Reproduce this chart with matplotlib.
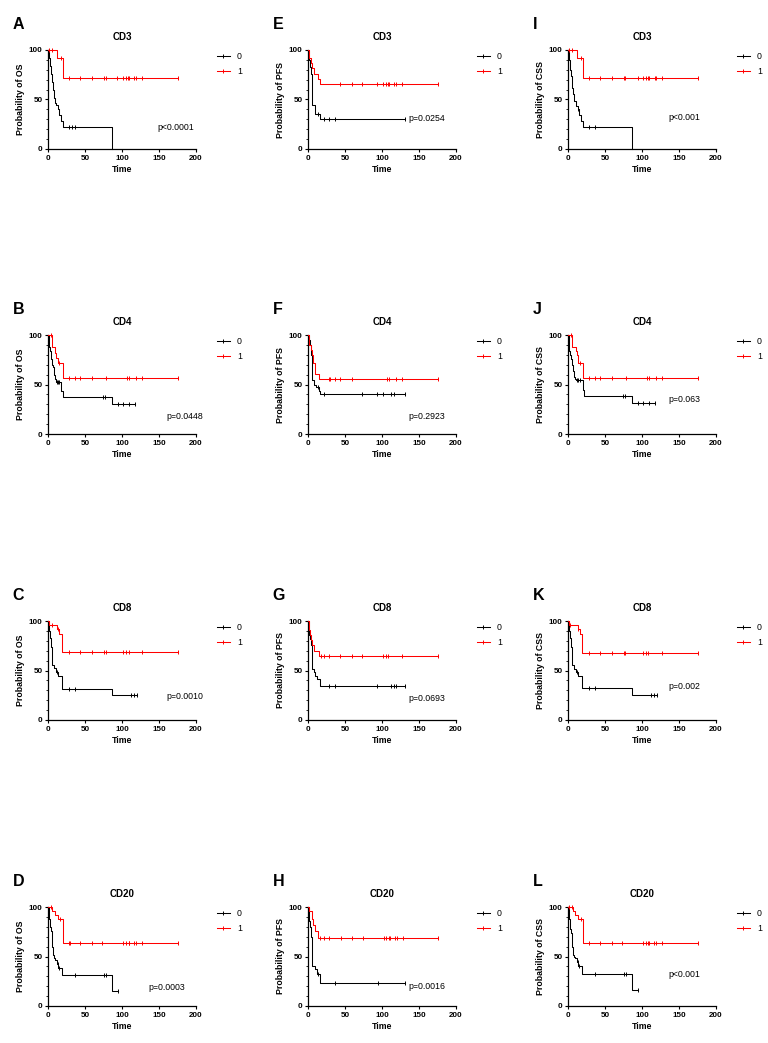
import numpy as np
import matplotlib
matplotlib.use("Agg")
import matplotlib.pyplot as plt
from matplotlib.lines import Line2D
from matplotlib.ticker import MultipleLocator

plt.rcParams['font.family'] = ['Liberation Sans', 'DejaVu Sans']

# ---- Kaplan-Meier data (time, survival %, censor times)
# column 1: OS
A_t0 = [0, 1, 2, 3, 4, 5, 6, 7, 8, 10, 11, 13, 15, 18, 20, 87]
A_s0 = [100, 96, 92, 84, 76, 72, 68, 60, 52, 46, 44, 40, 34, 28, 22, 0]
A_c0 = [29, 33, 37]
A_t1 = [0, 12, 20]
A_s1 = [100, 92, 72]
A_c1 = [2, 5, 17, 29, 43, 59, 75, 78, 93, 102, 105, 108, 110, 116, 119, 127, 175]

B_t0 = [0, 1, 2, 3, 4, 5, 7, 8, 9, 11, 18, 20, 87]
B_s0 = [100, 96, 88, 84, 76, 70, 68, 60, 56, 53, 43, 37, 30]
B_c0 = [12, 13, 15, 74, 77, 95, 102, 109, 117]
B_t1 = [0, 6, 10, 11, 13, 20]
B_s1 = [100, 88, 82, 77, 72, 57]
B_c1 = [4, 15, 28, 36, 43, 59, 78, 107, 109, 119, 127, 175]

C_t0 = [0, 1, 2, 3, 4, 5, 6, 8, 11, 14, 19, 87]
C_s0 = [100, 95, 90, 83, 74, 65, 56, 53, 48, 44, 31, 25]
C_c0 = [12, 29, 37, 112, 116, 120]
C_t1 = [0, 2, 12, 15, 19]
C_s1 = [100, 96, 92, 87, 69]
C_c1 = [5, 14, 29, 43, 59, 75, 78, 102, 106, 110, 127, 175]

D_t0 = [0, 1, 2, 3, 4, 5, 6, 7, 8, 10, 12, 14, 19, 87]
D_s0 = [100, 96, 88, 80, 76, 70, 60, 52, 48, 46, 42, 38, 31, 15]
D_c0 = [13, 15, 36, 76, 78, 94]
D_t1 = [0, 6, 10, 13, 20]
D_s1 = [100, 96, 92, 88, 64]
D_c1 = [4, 16, 29, 30, 43, 59, 73, 102, 105, 109, 110, 116, 119, 127, 175]

# column 2: PFS
E_t0 = [0, 1, 2, 3, 4, 5, 6, 9, 16]
E_s0 = [100, 96, 90, 83, 76, 70, 44, 35, 30]
E_c0 = [13, 21, 29, 36, 131]
E_t1 = [0, 2, 4, 5, 8, 14, 16]
E_s1 = [100, 92, 87, 82, 76, 71, 66]
E_c1 = [43, 59, 73, 93, 102, 106, 108, 110, 116, 119, 127, 175]

F_t0 = [0, 1, 3, 4, 5, 6, 8, 11, 15, 16]
F_s0 = [100, 95, 90, 80, 70, 55, 50, 47, 43, 40]
F_c0 = [13, 21, 73, 93, 102, 112, 116, 131]
F_t1 = [0, 1, 4, 5, 7, 9, 15]
F_s1 = [100, 90, 85, 80, 72, 61, 56]
F_c1 = [29, 30, 36, 43, 59, 107, 109, 119, 127, 175]

G_t0 = [0, 1, 2, 3, 4, 5, 6, 8, 10, 12, 16]
G_s0 = [100, 92, 86, 82, 76, 72, 52, 48, 44, 41, 34]
G_c0 = [28, 36, 93, 112, 116, 119, 131]
G_t1 = [0, 2, 3, 4, 6, 8, 15]
G_s1 = [100, 91, 86, 81, 76, 70, 65]
G_c1 = [17, 21, 29, 43, 59, 73, 102, 105, 108, 127, 175]

H_t0 = [0, 1, 2, 3, 4, 5, 6, 9, 12, 16]
H_s0 = [100, 92, 86, 80, 70, 60, 40, 37, 32, 23]
H_c0 = [14, 37, 94, 131]
H_t1 = [0, 2, 5, 7, 9, 14]
H_s1 = [100, 96, 88, 82, 76, 69]
H_c1 = [16, 21, 29, 44, 60, 74, 103, 106, 109, 111, 117, 120, 128, 175]

# column 3: CSS
I_t0 = [0, 1, 2, 3, 4, 5, 6, 7, 8, 11, 13, 15, 17, 20, 87]
I_s0 = [100, 96, 90, 80, 74, 68, 62, 56, 48, 43, 40, 34, 28, 22, 0]
I_c0 = [14, 29, 37]
I_t1 = [0, 12, 20]
I_s1 = [100, 92, 72]
I_c1 = [2, 5, 17, 29, 43, 59, 75, 77, 94, 102, 106, 108, 110, 117, 119, 127, 175]

J_t0 = [0, 1, 2, 3, 4, 5, 7, 8, 9, 11, 20, 21, 87]
J_s0 = [100, 92, 84, 80, 76, 70, 64, 58, 56, 55, 44, 38, 31]
J_c0 = [12, 14, 16, 74, 77, 94, 101, 109, 117]
J_t1 = [0, 6, 11, 12, 13, 14, 20]
J_s1 = [100, 88, 84, 80, 76, 72, 57]
J_c1 = [4, 16, 29, 36, 43, 59, 78, 107, 110, 119, 127, 175]

K_t0 = [0, 1, 2, 3, 4, 5, 6, 8, 11, 14, 19, 87]
K_s0 = [100, 95, 90, 83, 74, 65, 56, 52, 48, 44, 32, 25]
K_c0 = [12, 29, 37, 112, 116, 120]
K_t1 = [0, 2, 13, 16, 19]
K_s1 = [100, 96, 92, 87, 68]
K_c1 = [3, 14, 29, 43, 59, 75, 77, 102, 106, 108, 127, 175]

L_t0 = [0, 1, 2, 3, 4, 5, 6, 7, 8, 10, 12, 14, 19, 87]
L_s0 = [100, 96, 88, 78, 74, 70, 60, 52, 50, 48, 44, 40, 32, 16]
L_c0 = [13, 15, 37, 76, 78, 94]
L_t1 = [0, 7, 10, 14, 20]
L_s1 = [100, 96, 92, 88, 64]
L_c1 = [2, 5, 17, 29, 43, 59, 73, 102, 106, 108, 110, 116, 119, 127, 175]

markers = ["CD3", "CD4", "CD8", "CD20"]
endpoints = ["OS", "PFS", "CSS"]
letters = [["A", "E", "I"], ["B", "F", "J"], ["C", "G", "K"], ["D", "H", "L"]]
pvalues = {
    "A": "p<0.0001", "B": "p=0.0448", "C": "p=0.0010", "D": "p=0.0003",
    "E": "p=0.0254", "F": "p=0.2923", "G": "p=0.0693", "H": "p=0.0016",
    "I": "p<0.001", "J": "p=0.063", "K": "p=0.002", "L": "p<0.001",
}
curves = {
    "A": ((A_t0, A_s0, A_c0), (A_t1, A_s1, A_c1)),
    "B": ((B_t0, B_s0, B_c0), (B_t1, B_s1, B_c1)),
    "C": ((C_t0, C_s0, C_c0), (C_t1, C_s1, C_c1)),
    "D": ((D_t0, D_s0, D_c0), (D_t1, D_s1, D_c1)),
    "E": ((E_t0, E_s0, E_c0), (E_t1, E_s1, E_c1)),
    "F": ((F_t0, F_s0, F_c0), (F_t1, F_s1, F_c1)),
    "G": ((G_t0, G_s0, G_c0), (G_t1, G_s1, G_c1)),
    "H": ((H_t0, H_s0, H_c0), (H_t1, H_s1, H_c1)),
    "I": ((I_t0, I_s0, I_c0), (I_t1, I_s1, I_c1)),
    "J": ((J_t0, J_s0, J_c0), (J_t1, J_s1, J_c1)),
    "K": ((K_t0, K_s0, K_c0), (K_t1, K_s1, K_c1)),
    "L": ((L_t0, L_s0, L_c0), (L_t1, L_s1, L_c1)),
}

# p-value text position in axes fraction (layout only)
ptext_pos = {
    "A": (0.74, 0.22), "B": (0.80, 0.18), "C": (0.80, 0.24), "D": (0.68, 0.19),
    "E": (0.68, 0.31), "F": (0.676, 0.18), "G": (0.68, 0.22), "H": (0.68, 0.20),
    "I": (0.676, 0.32), "J": (0.676, 0.35), "K": (0.676, 0.34), "L": (0.676, 0.32),
}

colors = ["black", "#ff0000"]


def surv_at(t, times, surv):
    idx = np.searchsorted(times, t, side='right') - 1
    return np.asarray(surv)[idx]


def draw_km(ax, times, surv, cens, color):
    end = max(times[-1], max(cens))
    x = list(times) + [end]
    y = list(surv) + [surv[-1]]
    ax.step(x, y, where='post', color=color, lw=0.75, clip_on=False, zorder=3)
    cy = surv_at(np.asarray(cens), times, surv)
    ax.plot(cens, cy, ls='none', marker='|', ms=2.4, mew=0.7, color=color,
            clip_on=False, zorder=4)


W, H = 768, 1043
fig = plt.figure(figsize=(W / 100, H / 100), dpi=100)

col_left = [48, 308, 568]
row_top = [50, 335, 621, 907]
ax_w, ax_h = 148, 99

for r in range(4):
    for c in range(3):
        lt = letters[r][c]
        ax = fig.add_axes([col_left[c] / W, 1 - (row_top[r] + ax_h) / H,
                           ax_w / W, ax_h / H])
        for g in range(2):
            t, s, cz = curves[lt][g]
            draw_km(ax, t, s, cz, colors[g])
        ax.set_xlim(0, 200)
        ax.set_ylim(0, 100)
        ax.set_xticks([0, 50, 100, 150, 200])
        ax.set_yticks([0, 50, 100])
        ax.yaxis.set_minor_locator(MultipleLocator(10))
        for sp in ['top', 'right']:
            ax.spines[sp].set_visible(False)
        for sp in ['left', 'bottom']:
            ax.spines[sp].set_linewidth(0.9)
        ax.tick_params(which='major', length=2.5, width=0.8, pad=1.5,
                       labelsize=5.8)
        ax.tick_params(which='minor', length=1.5, width=0.6)
        for lab in ax.get_xticklabels() + ax.get_yticklabels():
            lab.set_fontweight('bold')
        ax.set_title(markers[r], fontsize=7, fontweight='bold', pad=7)
        ax.set_ylabel(f"Probability of {endpoints[c]}", fontsize=6.3,
                      fontweight='bold', labelpad=2.5)
        ax.set_xlabel("Time", fontsize=6.3, fontweight='bold', labelpad=2.5)
        ax.text(-0.24, 1.26, lt, transform=ax.transAxes, fontsize=11.5,
                fontweight='bold', ha='left', va='center')
        px, py = ptext_pos[lt]
        ax.text(px, py, pvalues[lt], transform=ax.transAxes, fontsize=6.3,
                ha='left', va='center')
        handles = [Line2D([], [], color=colors[g], lw=0.75, marker='|', ms=2.4,
                          mew=0.7) for g in range(2)]
        ax.legend(handles, ["0", "1"], loc='upper left',
                  bbox_to_anchor=(1.14, 0.98), frameon=False, fontsize=6.3,
                  handlelength=1.5, handletextpad=0.8, labelspacing=0.7,
                  borderpad=0, borderaxespad=0)

fig.savefig("out.png", dpi=100)
